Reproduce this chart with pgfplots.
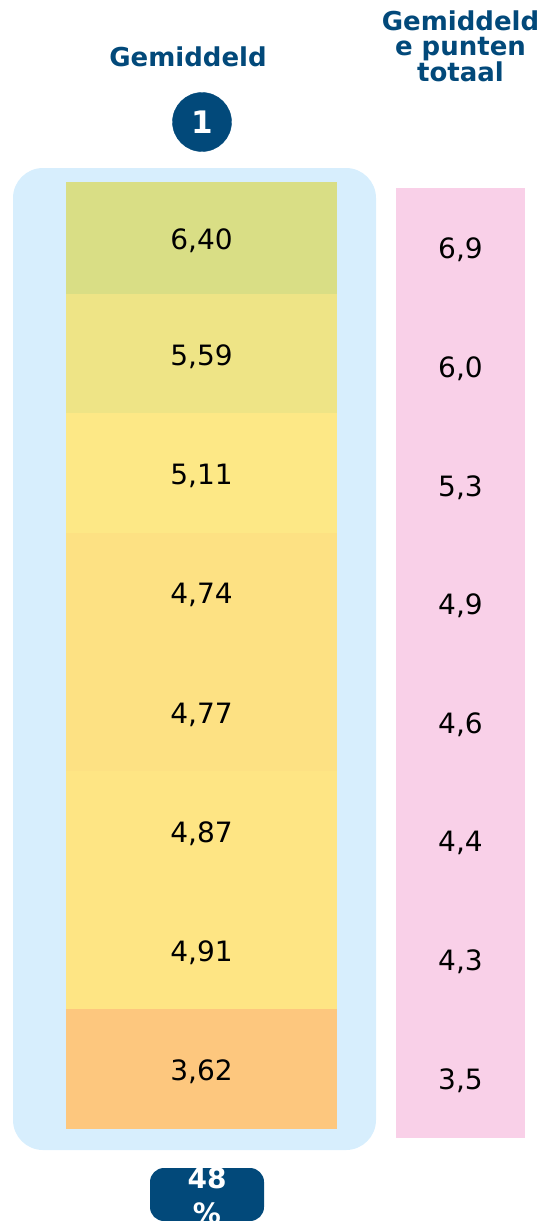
\documentclass[border=0pt]{standalone}
\usepackage{fontspec}
\setmainfont{DejaVu Sans}
\usepackage{pgfplots}
\usepackage{pgfplotstable}
\pgfplotsset{compat=1.18}

\definecolor{navy}{HTML}{02497A}
\definecolor{boxblue}{HTML}{D7EEFD}
\definecolor{pinkcol}{HTML}{F9D0E8}
\definecolor{c1}{HTML}{D9DE85}
\definecolor{c2}{HTML}{EEE486}
\definecolor{c3}{HTML}{FDE886}
\definecolor{c4}{HTML}{FDE183}
\definecolor{c6}{HTML}{FEE584}
\definecolor{c8}{HTML}{FDC77E}

% left column: row centre (px from top), value
\pgfplotstableread{
x y val
201.5 241 6,40
201.5 357 5,59
201.5 476 5,11
201.5 595 4,74
201.5 715 4,77
201.5 834 4,87
201.5 953 4,91
201.5 1072 3,62
}\gem

% right column: average total points
\pgfplotstableread{
x y val
460.5 250 6,9
460.5 369 6,0
460.5 488 5,3
460.5 606 4,9
460.5 725 4,6
460.5 843 4,4
460.5 962 4,3
460.5 1081 3,5
}\tot

\begin{document}
\begin{tikzpicture}
\begin{axis}[
  name=ax,
  scale only axis,
  width=541pt, height=1221pt,
  xmin=0, xmax=541, ymin=0, ymax=1221,
  y dir=reverse,
  axis lines=none,
  clip=false,
]
% background panel
\addplot[draw=none, fill=boxblue, rounded corners=30pt]
  coordinates {(13,168) (376,168) (376,1150) (13,1150)} -- cycle;
% coloured cells
\addplot[draw=none, fill=c1] coordinates {(66,182) (337,182) (337,294) (66,294)} -- cycle;
\addplot[draw=none, fill=c2] coordinates {(66,294) (337,294) (337,413) (66,413)} -- cycle;
\addplot[draw=none, fill=c3] coordinates {(66,413) (337,413) (337,533) (66,533)} -- cycle;
\addplot[draw=none, fill=c4] coordinates {(66,533) (337,533) (337,771) (66,771)} -- cycle;
\addplot[draw=none, fill=c6] coordinates {(66,771) (337,771) (337,1009) (66,1009)} -- cycle;
\addplot[draw=none, fill=c8] coordinates {(66,1009) (337,1009) (337,1129) (66,1129)} -- cycle;
% pink column
\addplot[draw=none, fill=pinkcol] coordinates {(396,188) (525,188) (525,1138) (396,1138)} -- cycle;

\addplot[draw=none, nodes near coords, point meta=explicit symbolic,
  nodes near coords align={center},
  every node near coord/.append style={font=\fontsize{28}{30}\selectfont, text=black}]
  table[x=x, y=y, meta=val] {\gem};
\addplot[draw=none, nodes near coords, point meta=explicit symbolic,
  nodes near coords align={center},
  every node near coord/.append style={font=\fontsize{28}{30}\selectfont, text=black}]
  table[x=x, y=y, meta=val] {\tot};

% badge "1"
\addplot[only marks, mark=*, mark size=29.5pt, navy,
  nodes near coords, point meta=explicit symbolic, nodes near coords align={center},
  every node near coord/.append style={font=\bfseries\fontsize{31}{33}\selectfont, text=white}]
  coordinates {(202,122) [1]};

% bottom badge
\addplot[draw=none, fill=navy, rounded corners=14pt]
  coordinates {(150,1168) (264,1168) (264,1221) (150,1221)} -- cycle;
\node[text=white, font=\bfseries\fontsize{28}{30}\selectfont] at (axis cs:207,1178) {48};
\node[text=white, font=\bfseries\fontsize{28}{30}\selectfont] at (axis cs:207,1213) {\%};

% headers
\node[text=navy, font=\bfseries\fontsize{26}{28}\selectfont] at (axis cs:188,57) {Gemiddeld};
\node[text=navy, font=\bfseries\fontsize{26}{25.5}\selectfont, align=center]
  at (axis cs:460.5,46) {Gemiddeld\\e punten\\totaal};
\end{axis}
\pgfresetboundingbox
\useasboundingbox (ax.south west) rectangle (ax.north east);
\end{tikzpicture}
\end{document}
